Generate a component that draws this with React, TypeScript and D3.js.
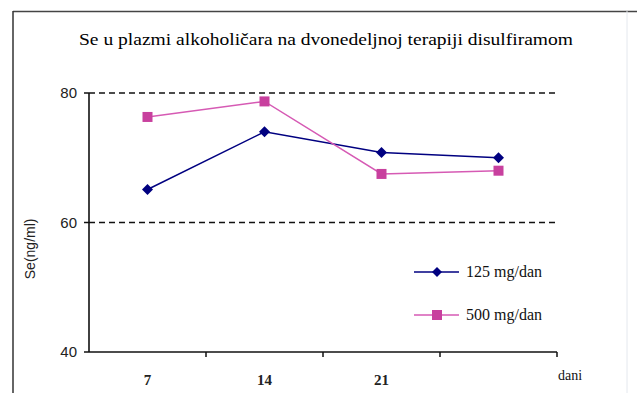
import React from "react";
import * as d3 from "d3";

// Days of therapy (fourth point has no label)
const categories = ["7", "14", "21", ""];
const series125 = [65.1, 74.0, 70.8, 70.0];
const series500 = [76.3, 78.7, 67.5, 68.0];
const yTicks = [40, 60, 80];
const seriesNames = ["125 mg/dan", "500 mg/dan"];

const W = 637;
const H = 393;
const plot = { left: 89, right: 557, top: 93, bottom: 352 };

const serif = "Liberation Serif";
const sans = "Liberation Sans";

const BLUE = "#000080";
const PINK_LINE = "#D65AB4";
const PINK_MARK = "#C8409E";

export default function App() {
  const x = d3
    .scaleBand<number>()
    .domain(d3.range(categories.length))
    .range([plot.left, plot.right]);
  const y = d3.scaleLinear().domain([40, 80]).range([plot.bottom, plot.top]);

  const cx = (i: number) => (x(i) ?? 0) + x.bandwidth() / 2;

  const line = d3
    .line<number>()
    .x((_, i) => cx(i))
    .y((d) => y(d));

  const diamond = (px: number, py: number, r: number) =>
    `M${px},${py - r}L${px + r},${py}L${px},${py + r}L${px - r},${py}Z`;

  return (
    <svg
      width={W}
      height={H}
      style={{ position: "absolute", left: 0, top: 0, background: "#fff" }}
    >
      {/* frame */}
      <line x1={13} y1={11.5} x2={W} y2={11.5} stroke="#444" strokeWidth={1.5} />
      <line x1={13} y1={11} x2={13} y2={H} stroke="#333" strokeWidth={1.5} />
      <line x1={627} y1={11} x2={627} y2={H} stroke="#e4e8ee" strokeWidth={1} />

      {/* title */}
      <text
        x={326}
        y={45}
        textAnchor="middle"
        fontFamily={serif}
        fontSize={17}
        textLength={494}
        lengthAdjust="spacingAndGlyphs"
        fill="#000"
      >
        Se u plazmi alkoholičara na dvonedeljnoj terapiji disulfiramom
      </text>

      {/* dashed gridlines */}
      {yTicks
        .filter((t) => t !== 40)
        .map((t) => (
          <line
            key={"g" + t}
            x1={plot.left}
            x2={plot.right}
            y1={y(t)}
            y2={y(t)}
            stroke="#111"
            strokeWidth={1.5}
            strokeDasharray="6,4"
          />
        ))}

      {/* y axis */}
      <line x1={plot.left} x2={plot.left} y1={plot.top} y2={plot.bottom} stroke="#111" strokeWidth={1.6} />
      {yTicks.map((t) => (
        <g key={"y" + t}>
          <line x1={plot.left - 5} x2={plot.left} y1={y(t)} y2={y(t)} stroke="#111" strokeWidth={1.5} />
          <text
            x={plot.left - 12}
            y={y(t) + 5}
            textAnchor="end"
            fontFamily={sans}
            fontSize={15}
            fill="#222"
          >
            {t}
          </text>
        </g>
      ))}
      <text
        transform={`translate(35,${(y(60) + y(50)) / 2 - 6}) rotate(-90)`}
        textAnchor="middle"
        fontFamily={sans}
        fontSize={14}
        fill="#222"
      >
        Se(ng/ml)
      </text>

      {/* x axis */}
      <line x1={plot.left} x2={plot.right} y1={plot.bottom} y2={plot.bottom} stroke="#111" strokeWidth={1.6} />
      {categories.map((c, i) => (
        <g key={"x" + i}>
          <line
            x1={(x(i) ?? 0) + x.bandwidth()}
            x2={(x(i) ?? 0) + x.bandwidth()}
            y1={plot.bottom}
            y2={plot.bottom + 5}
            stroke="#111"
            strokeWidth={1.5}
          />
          <text
            x={cx(i)}
            y={plot.bottom + 33}
            textAnchor="middle"
            fontFamily={serif}
            fontSize={15}
            fontWeight="bold"
            fill="#222"
          >
            {c}
          </text>
        </g>
      ))}
      <text x={570} y={380} textAnchor="middle" fontFamily={serif} fontSize={14} fill="#111">
        dani
      </text>

      {/* series lines */}
      <path d={line(series125) ?? ""} fill="none" stroke={BLUE} strokeWidth={1.5} />
      <path d={line(series500) ?? ""} fill="none" stroke={PINK_LINE} strokeWidth={1.5} />

      {/* markers */}
      {series125.map((v, i) => (
        <path key={"d" + i} d={diamond(cx(i), y(v), 5.5)} fill={BLUE} />
      ))}
      {series500.map((v, i) => (
        <rect key={"s" + i} x={cx(i) - 5} y={y(v) - 5} width={10} height={10} fill={PINK_MARK} />
      ))}

      {/* legend */}
      <g>
        <line x1={414} x2={459} y1={272} y2={272} stroke={BLUE} strokeWidth={1.5} />
        <path d={diamond(437, 272, 5)} fill={BLUE} />
        <text x={466} y={277} fontFamily={serif} fontSize={16} fill="#111">
          {seriesNames[0]}
        </text>
        <line x1={414} x2={459} y1={315} y2={315} stroke={PINK_LINE} strokeWidth={1.5} />
        <rect x={432} y={310} width={10} height={10} fill={PINK_MARK} />
        <text x={466} y={320} fontFamily={serif} fontSize={16} fill="#111">
          {seriesNames[1]}
        </text>
      </g>
    </svg>
  );
}
